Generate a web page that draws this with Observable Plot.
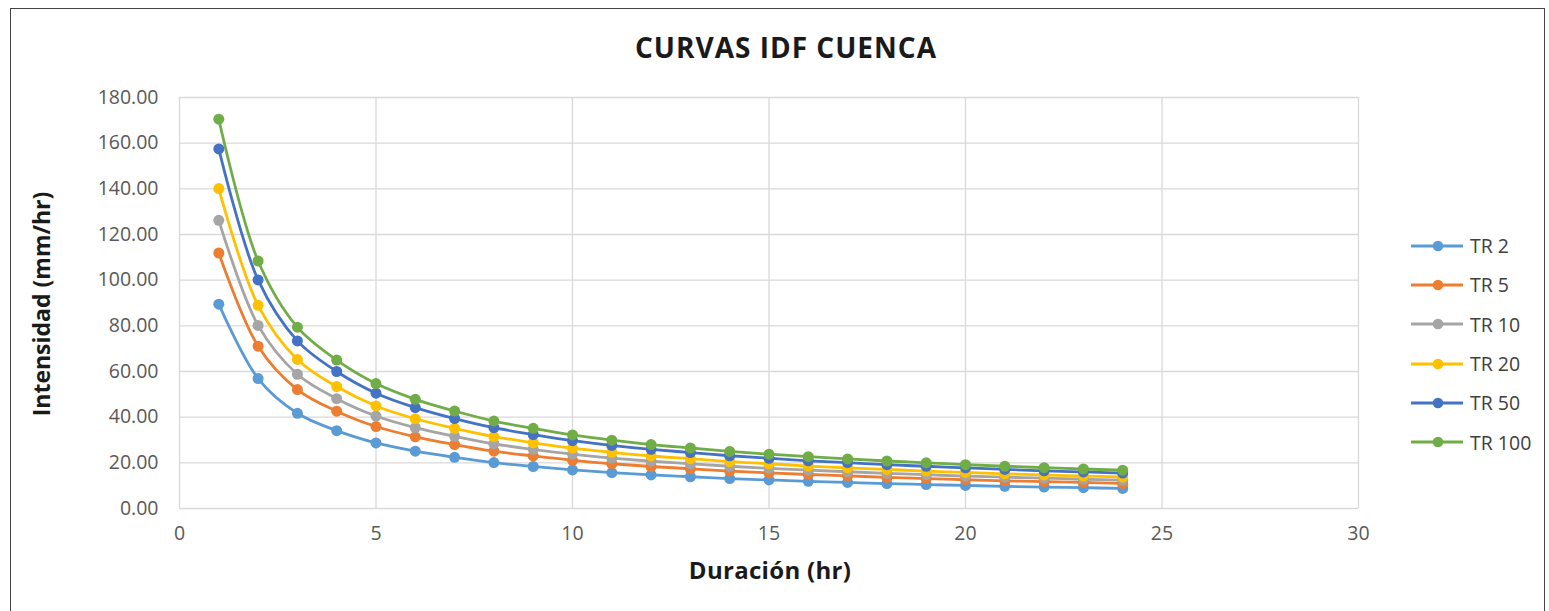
<!DOCTYPE html>
<html>
<head>
<meta charset="utf-8">
<script src="https://cdn.jsdelivr.net/npm/d3@7"></script>
<script src="https://cdn.jsdelivr.net/npm/@observablehq/plot@0.6"></script>
<style>
  html, body { margin: 0; padding: 0; background: #fff; }
  #wrap { position: relative; width: 1549px; height: 611px; overflow: hidden; font-family: "Open Sans", sans-serif; }
  #frame { position: absolute; left: 10px; top: 8px; width: 1535px; height: 620px; border: 1px solid #444; box-sizing: border-box; }
  #chart { position: absolute; left: 0; top: 0; }
  #title { position: absolute; left: 0; width: 1572px; top: 28px; text-align: center; font-weight: 700; font-size: 28px; letter-spacing: 1px; color: #1a1a1a; }
  #xlabel { position: absolute; left: 0; width: 1540px; top: 553px; text-align: center; font-weight: 700; font-size: 24px; letter-spacing: 0.3px; color: #1a1a1a; }
  #ylabel { position: absolute; left: 41px; top: 304px; transform: translate(-50%, -50%) rotate(-90deg); white-space: nowrap; font-weight: 700; font-size: 23px; color: #1a1a1a; }
  #legend { position: absolute; left: 1411px; top: 226px; }
  .item { display: flex; align-items: center; height: 39.3px; font-size: 19.5px; color: #404040; }
  .item svg { margin-right: 7px; }
</style>
</head>
<body>
<div id="wrap">
  <div id="frame"></div>
  <div id="chart"></div>
  <div id="title">CURVAS IDF CUENCA</div>
  <div id="ylabel">Intensidad (mm/hr)</div>
  <div id="xlabel">Duración (hr)</div>
  <div id="legend"></div>
</div>
<script>
// Durations (hr)
const durations = [1,2,3,4,5,6,7,8,9,10,11,12,13,14,15,16,17,18,19,20,21,22,23,24];
// Series names and colours
const seriesNames = ["TR 2","TR 5","TR 10","TR 20","TR 50","TR 100"];
const seriesColors = ["#5B9BD5","#ED7D31","#A5A5A5","#FFC000","#4472C4","#70AD47"];
// Intensities (mm/hr)
const tr2   = [89.5,56.9,41.7,34.1,28.7,25.1,22.4,20.1,18.4,16.9,15.7,14.7,13.9,13.1,12.5,11.9,11.4,10.9,10.5,10.1,9.7,9.4,9.1,8.8];
const tr5   = [111.9,71.1,52.1,42.6,35.9,31.4,28.0,25.1,23.0,21.1,19.6,18.4,17.4,16.4,15.6,14.9,14.3,13.6,13.1,12.6,12.1,11.8,11.4,11.0];
const tr10  = [126.2,80.2,58.8,48.1,40.5,35.4,31.6,28.3,25.9,23.8,22.1,20.7,19.6,18.5,17.6,16.8,16.1,15.4,14.8,14.2,13.7,13.3,12.8,12.4];
const tr20  = [140.1,89.0,65.3,53.4,44.9,39.3,35.1,31.5,28.8,26.4,24.6,23.0,21.8,20.5,19.6,18.6,17.8,17.1,16.4,15.8,15.2,14.7,14.2,13.8];
const tr50  = [157.5,100.1,73.4,60.0,50.5,44.2,39.4,35.4,32.4,29.7,27.6,25.9,24.5,23.1,22.0,20.9,20.1,19.2,18.5,17.8,17.1,16.5,16.0,15.5];
const tr100 = [170.5,108.4,79.4,65.0,54.7,47.8,42.7,38.3,35.1,32.2,29.9,28.0,26.5,25.0,23.8,22.7,21.7,20.8,20.0,19.2,18.5,17.9,17.3,16.8];
// Axis ticks
const xTicks = [0,5,10,15,20,25,30];
const yTicks = [0,20,40,60,80,100,120,140,160,180];

const allSeries = [tr2, tr5, tr10, tr20, tr50, tr100];
const data = allSeries.flatMap((vals, i) =>
  durations.map((d, j) => ({series: seriesNames[i], d, v: vals[j]})));

const chart = Plot.plot({
  width: 1549,
  height: 611,
  marginLeft: 179,
  marginRight: 191,
  marginTop: 97,
  marginBottom: 103,
  style: {fontFamily: "Open Sans, sans-serif", fontSize: "19.5px", color: "#595959", background: "transparent"},
  x: {domain: [0, 30], ticks: xTicks, tickFormat: d => String(d), label: null, tickSize: 0, tickPadding: 18},
  y: {domain: [0, 180], ticks: yTicks, tickFormat: d3.format(".2f"), label: null, tickSize: 0, tickPadding: 21},
  color: {domain: seriesNames, range: seriesColors},
  marks: [
    Plot.gridX(xTicks, {stroke: "#d9d9d9", strokeOpacity: 1, strokeWidth: 1.3}),
    Plot.gridY(yTicks, {stroke: "#d9d9d9", strokeOpacity: 1, strokeWidth: 1.3}),
    Plot.axisX({ticks: xTicks, tickFormat: d => String(d), tickSize: 0, tickPadding: 18, label: null}),
    Plot.axisY({ticks: yTicks, tickFormat: d3.format(".2f"), tickSize: 0, tickPadding: 21, label: null}),
    Plot.line(data, {x: "d", y: "v", z: "series", stroke: "series", curve: "catmull-rom", strokeWidth: 2.8}),
    Plot.dot(data, {x: "d", y: "v", fill: "series", r: 5.5, stroke: "none"})
  ]
});
document.getElementById("chart").appendChild(chart);

const legend = document.getElementById("legend");
seriesNames.forEach((name, i) => {
  const item = document.createElement("div");
  item.className = "item";
  item.innerHTML = `<svg width="52" height="12"><line x1="0" y1="6" x2="52" y2="6" stroke="${seriesColors[i]}" stroke-width="2.8"/><circle cx="27" cy="6" r="5.3" fill="${seriesColors[i]}"/></svg><span>${name}</span>`;
  legend.appendChild(item);
});
</script>
</body>
</html>
